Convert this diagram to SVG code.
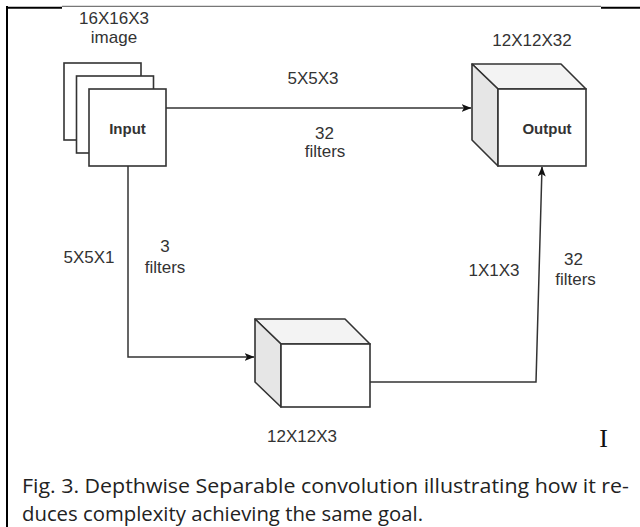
<svg xmlns="http://www.w3.org/2000/svg" width="640" height="527" viewBox="0 0 640 527">
<style>
.lbl{font-family:"Liberation Sans",Arial,sans-serif;font-size:17px;fill:#333;text-anchor:middle}
.bold{font-family:"Liberation Sans",Arial,sans-serif;font-size:15px;font-weight:bold;fill:#333;text-anchor:middle}
.box{fill:#fff;stroke:#333;stroke-width:1.6}
.top{fill:#f3f3f3;stroke:#333;stroke-width:1.6;stroke-linejoin:round}
.side{fill:#e6e6e6;stroke:#333;stroke-width:1.6;stroke-linejoin:round}
.edge{fill:none;stroke:#333;stroke-width:1.5}
.cap{font-family:"Open Sans","Noto Sans",sans-serif;font-size:20px;fill:#222}
</style>
<defs>
<marker id="arr" markerWidth="10" markerHeight="8" refX="9.5" refY="4" orient="auto" markerUnits="userSpaceOnUse">
<path d="M0,0 L10,4 L0,8 L2.5,4 Z" fill="#111"/>
</marker>
</defs>
<rect x="0" y="0" width="640" height="527" fill="#fff"/>
<g id="frame">
<line x1="7" y1="6" x2="7" y2="527" stroke="#000" stroke-width="2"/>
<line x1="6" y1="7.7" x2="62" y2="7.7" stroke="#000" stroke-width="2"/>
<line x1="62" y1="6.3" x2="601" y2="6.3" stroke="#777" stroke-width="1.3"/>
<line x1="601" y1="7.7" x2="640" y2="7.7" stroke="#000" stroke-width="2"/>
</g>
<g id="connectors">
<line class="edge" x1="166" y1="108" x2="471" y2="108" marker-end="url(#arr)"/>
<polyline class="edge" points="128,166 128,357 254,357" marker-end="url(#arr)"/>
<polyline class="edge" points="370,382 536,382 542,167" marker-end="url(#arr)"/>
</g>
<g id="input">
<rect class="box" x="64" y="63" width="77" height="77"/>
<rect class="box" x="76.5" y="76" width="77" height="77"/>
<rect class="box" x="89" y="89" width="77" height="77"/>
<text class="bold" x="127.5" y="133.5">Input</text>
<text class="lbl" x="114" y="24">16X16X3</text>
<text class="lbl" x="114" y="43">image</text>
</g>
<g id="output">
<polygon class="top" points="472,64 561,64 586,89 498,89"/>
<polygon class="side" points="472,64 498,89 498,166 472,140"/>
<rect class="box" x="498" y="89" width="88" height="77"/>
<text class="bold" x="547" y="133.5">Output</text>
<text class="lbl" x="532" y="46">12X12X32</text>
</g>
<g id="middle">
<polygon class="top" points="255,319 345,319 370,344 281,344"/>
<polygon class="side" points="255,319 281,344 281,407 255,382"/>
<rect class="box" x="281" y="344" width="89" height="63"/>
<text class="lbl" x="302" y="441.5">12X12X3</text>
</g>
<g id="labels">
<text class="lbl" x="313" y="84">5X5X3</text>
<text class="lbl" x="324.5" y="139">32</text>
<text class="lbl" x="325" y="157">filters</text>
<text class="lbl" x="89" y="262.5">5X5X1</text>
<text class="lbl" x="165" y="251.5">3</text>
<text class="lbl" x="165" y="272.5">filters</text>
<text class="lbl" x="494" y="275.5">1X1X3</text>
<text class="lbl" x="573.5" y="265">32</text>
<text class="lbl" x="575.5" y="285">filters</text>
</g>
<text x="603.5" y="447" font-family="'Liberation Serif','Times New Roman',serif" font-size="26" fill="#111" text-anchor="middle">I</text>
<g id="caption">
<text class="cap" x="22" y="493" textLength="607" lengthAdjust="spacingAndGlyphs">Fig. 3. Depthwise Separable convolution illustrating how it re-</text>
<text class="cap" x="22" y="521" textLength="401" lengthAdjust="spacingAndGlyphs">duces complexity achieving the same goal.</text>
</g>
</svg>
